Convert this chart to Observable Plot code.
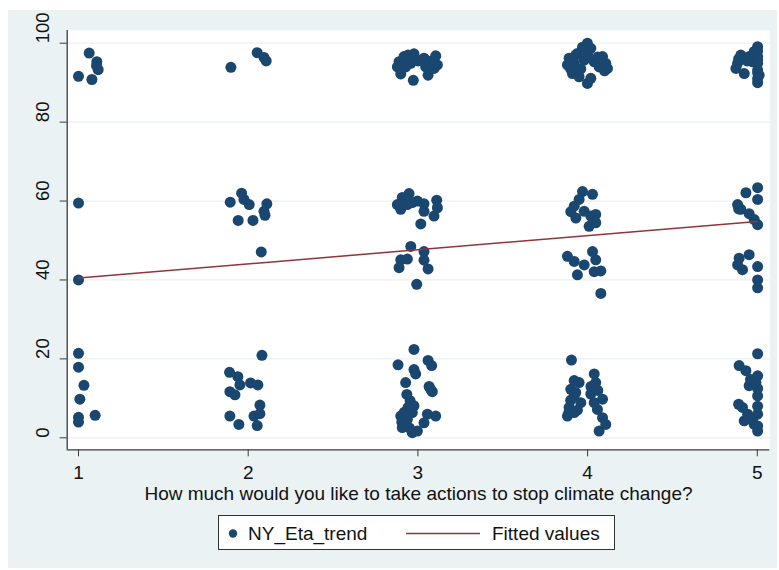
<!DOCTYPE html>
<html>
<head>
<meta charset="utf-8">
<script src="https://cdn.jsdelivr.net/npm/d3@7"></script>
<script src="https://cdn.jsdelivr.net/npm/@observablehq/plot@0.6"></script>
<style>
  html, body { margin: 0; padding: 0; background: #ffffff; }
  #page { position: relative; width: 779px; height: 570px; overflow: hidden; font-family: "Liberation Sans", Arial, Helvetica, sans-serif; }
  #bg { position: absolute; left: 8px; top: 10px; width: 769px; height: 558px; background: #eaf2f3; }
  #chart { position: absolute; left: 0; top: 0; }
  #legend { position: absolute; left: 218px; top: 515px; width: 397px; height: 35px; background: #ffffff; border: 1px solid #333; box-sizing: border-box; }
</style>
</head>
<body>
<div id="page">
  <div id="bg"></div>
  <div id="chart"></div>
  <div id="legend"></div>
</div>
<script>
// Jittered response to "How much would you like to take actions to stop climate change?"
const actionScore = [
  // 1
  1.063, 1.108, 1.116, 1.000, 1.079, 1.106, 1.000, 1.000, 1.000, 1.000, 1.032, 1.008, 1.098, 1.000, 1.000,
  // 2
  1.898, 2.053, 2.093, 2.106, 1.894, 1.961, 1.975, 2.006, 2.110, 2.093, 2.099, 1.941, 2.028, 2.077,
  2.081, 1.890, 1.939, 1.951, 1.892, 1.922, 2.014, 2.057, 2.069, 2.034, 2.069, 1.892, 1.945, 2.053,
  // 3
  2.889, 2.879, 2.899, 2.918, 2.942, 2.977, 2.958, 2.973, 3.013, 3.036, 3.046, 3.060, 3.085, 3.105, 3.115, 3.095, 2.928,
  2.930, 3.000, 3.070, 2.900,
  2.948, 2.908, 2.879, 2.899, 2.938, 2.967, 2.997, 3.036, 3.111, 3.115, 3.095, 3.036, 3.017,
  2.958, 3.036, 2.899, 2.938, 2.889, 3.036, 3.060, 2.993,
  2.977, 2.883, 3.060, 3.081, 2.977, 2.987, 2.928, 3.066, 3.085, 2.954, 2.942, 2.967, 2.899, 2.938, 3.105, 3.056, 3.036, 2.908, 2.967, 2.997, 2.928, 2.977,
  3.075, 2.920, 2.905, 2.950, 2.935,
  // 4
  3.999, 3.970, 4.019, 3.940, 4.088, 3.891, 3.921, 3.881, 3.980, 4.039, 4.107, 4.117, 3.911, 3.950, 3.999, 4.019, 4.068,
  3.930, 4.000, 4.060, 3.900, 4.100, 3.960,
  3.970, 4.029, 3.950, 3.921, 3.901, 3.980, 3.931, 4.019, 4.048, 4.009, 4.048,
  4.029, 4.048, 3.881, 3.921, 3.980, 3.940, 4.039, 4.078, 4.078,
  3.905, 4.039, 3.921, 3.950, 4.048, 3.901, 3.921, 4.019, 4.088, 3.891, 3.960, 3.881, 3.921, 4.058, 4.088, 4.107, 4.068, 4.039,
  3.900, 3.930, 3.890, 3.940, 4.020, 4.060,
  // 5
  5.002, 4.982, 4.903, 4.952, 5.002, 4.884, 4.874, 4.923, 5.002, 5.002, 5.011, 5.002, 4.972,
  5.002, 5.002, 5.002, 5.002, 4.890, 4.940,
  5.002, 4.933, 5.002, 4.884, 4.903, 4.952, 5.002, 4.982, 4.890,
  4.952, 4.893, 4.884, 4.913, 5.002, 5.002, 5.002,
  5.002, 4.893, 4.933, 5.002, 4.952, 4.992, 5.002, 4.913, 4.943, 5.002, 4.923, 5.002, 4.982, 4.972,
  5.002, 5.002, 4.890, 4.950, 5.002, 4.960
];

const etaTrend = [
  // 1
  97.5, 95.3, 93.3, 91.6, 90.8, 94.3, 59.5, 40.0, 21.4, 17.9, 13.3, 9.8, 5.7, 5.2, 4.0,
  // 2
  93.9, 97.6, 96.4, 95.5, 59.7, 62.0, 60.4, 59.1, 59.3, 57.4, 56.4, 55.1, 55.1, 47.1,
  20.9, 16.6, 15.5, 13.4, 11.7, 10.9, 13.9, 13.4, 8.3, 5.5, 6.1, 5.5, 3.4, 3.1,
  // 3
  95.3, 94.0, 92.2, 96.6, 97.0, 97.3, 94.9, 90.6, 95.6, 96.2, 94.0, 91.9, 95.6, 96.8, 94.5, 93.6, 94.0,
  96.0, 95.5, 95.0, 93.5,
  61.9, 60.9, 59.1, 57.9, 59.1, 59.6, 60.0, 59.3, 60.2, 58.3, 56.2, 57.4, 54.2,
  48.5, 47.2, 45.1, 45.3, 43.1, 45.0, 42.8, 38.9,
  22.4, 18.5, 19.6, 18.3, 17.3, 16.2, 14.0, 13.0, 11.7, 9.4, 7.7, 6.4, 5.5, 4.7, 5.5, 6.0, 3.8, 2.6, 1.3, 1.7, 3.9, 8.1,
  12.3, 6.5, 4.0, 2.5, 11.0,
  // 4
  100.0, 99.0, 98.7, 97.4, 96.6, 96.2, 94.9, 94.5, 95.7, 95.3, 94.9, 93.6, 92.3, 91.5, 89.8, 91.1, 94.0,
  97.0, 97.0, 96.5, 93.5, 93.0, 93.5,
  62.4, 61.7, 60.4, 58.7, 57.3, 57.4, 55.7, 56.2, 56.6, 53.6, 54.5,
  47.2, 45.1, 46.0, 44.7, 43.8, 41.3, 42.1, 42.3, 36.6,
  19.7, 16.2, 14.5, 14.0, 14.0, 12.3, 10.6, 11.1, 9.8, 7.7, 8.9, 5.5, 6.4, 7.2, 5.1, 3.4, 1.7, 8.9,
  9.5, 11.5, 6.5, 7.0, 13.0, 12.0,
  // 5
  99.1, 97.9, 97.0, 96.6, 96.6, 94.9, 93.6, 92.3, 94.9, 93.2, 91.9, 90.0, 95.3,
  98.0, 95.8, 92.5, 91.0, 96.0, 95.5,
  63.4, 62.1, 60.4, 59.1, 57.9, 56.8, 54.0, 55.3, 58.0,
  46.4, 45.5, 43.8, 42.6, 43.4, 40.0, 38.0,
  21.3, 18.3, 17.0, 15.7, 13.2, 14.0, 10.6, 7.7, 6.0, 6.0, 4.3, 1.7, 3.4, 4.7,
  12.5, 8.0, 8.5, 5.0, 3.0, 14.8
];

// Linear fit endpoints
const fittedX = [1, 5];
const fittedY = [40.5, 54.8];

const xTicks = [1, 2, 3, 4, 5];
const yTicks = [0, 20, 40, 60, 80, 100];
const xTitle = "How much would you like to take actions to stop climate change?";
const legendLabels = ["NY_Eta_trend", "Fitted values"];

const navy = "#1a476f";
const maroon = "#90353b";
const axisColor = "#3a3a3a";

const points = actionScore.map((x, i) => ({x, y: etaTrend[i]}));
const fitted = fittedX.map((x, i) => ({x, y: fittedY[i]}));

const xDomain = [0.9334, 5.0737];
const yDomain = [-3.04, 103.22];

const chart = Plot.plot({
  width: 779,
  height: 570,
  marginLeft: 66.7,
  marginRight: 9.7,
  marginTop: 30,
  marginBottom: 120.7,
  style: {background: "transparent", fontFamily: "'Liberation Sans', Arial, Helvetica, sans-serif", color: "#111"},
  x: {domain: xDomain, axis: null},
  y: {domain: yDomain, axis: null},
  marks: [
    Plot.frame({fill: "#ffffff", stroke: null}),
    Plot.gridY(yTicks, {stroke: "#eaf2f3", strokeOpacity: 1, strokeWidth: 1.3}),
    Plot.ruleX([xDomain[0]], {stroke: axisColor, strokeWidth: 1.3}),
    Plot.ruleY([yDomain[0]], {stroke: axisColor, strokeWidth: 1.3}),
    Plot.axisX(xTicks, {tickSize: 7, tickPadding: 9, fontSize: 19, stroke: axisColor, fill: "#111", label: null, tickFormat: d => String(d)}),
    Plot.axisY(yTicks, {tickSize: 7, stroke: axisColor, label: null, tickFormat: () => ""}),
    Plot.text(yTicks, {y: d => d, text: d => String(d), frameAnchor: "left", dx: -24, rotate: -90, fontSize: 18.5, fill: "#111"}),
    Plot.text([xTitle], {frameAnchor: "bottom", dy: 44, text: d => d, fontSize: 19, fill: "#111", lineAnchor: "middle"}),
    Plot.dot(points, {x: "x", y: "y", r: 5.5, fill: navy, stroke: null}),
    Plot.line(fitted, {x: "x", y: "y", stroke: maroon, strokeWidth: 1.5})
  ]
});
document.getElementById("chart").append(chart);

// Legend box below the axis title
const lg = d3.select("#legend").append("svg").attr("width", 397).attr("height", 35)
  .style("display", "block")
  .style("font-family", "'Liberation Sans', Arial, Helvetica, sans-serif");
lg.append("circle").attr("cx", 14).attr("cy", 17.5).attr("r", 4.2).attr("fill", navy);
lg.append("text").attr("x", 29).attr("y", 17.5).attr("dy", "0.35em").attr("font-size", 19).attr("fill", "#111").text(legendLabels[0]);
lg.append("line").attr("x1", 187).attr("x2", 261).attr("y1", 17.5).attr("y2", 17.5).attr("stroke", maroon).attr("stroke-width", 1.5);
lg.append("text").attr("x", 273).attr("y", 17.5).attr("dy", "0.35em").attr("font-size", 19).attr("fill", "#111").text(legendLabels[1]);
</script>
</body>
</html>
